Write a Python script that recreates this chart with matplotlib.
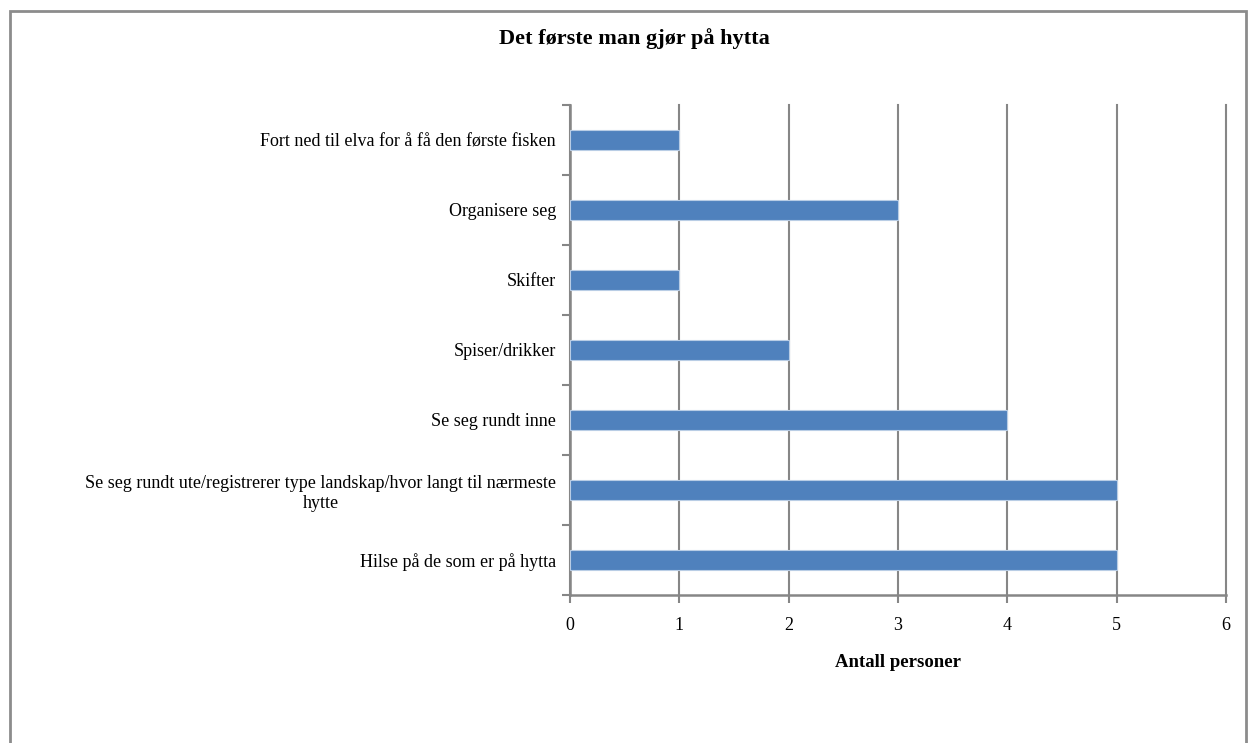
import matplotlib
matplotlib.use("Agg")
import matplotlib.pyplot as plt
from matplotlib.patches import Rectangle

categories = [
    "Hilse på de som er på hytta",
    "Se seg rundt ute/registrerer type landskap/hvor langt til nærmeste\nhytte",
    "Se seg rundt inne",
    "Spiser/drikker",
    "Skifter",
    "Organisere seg",
    "Fort ned til elva for å få den første fisken",
]
values = [5, 5, 4, 2, 1, 3, 1]
x_ticks = [0, 1, 2, 3, 4, 5, 6]
title = "Det første man gjør på hytta"
xlabel = "Antall personer"

plt.rcParams['font.family'] = ['Liberation Serif', 'DejaVu Serif']

W, H = 1248, 743
fig = plt.figure(figsize=(W / 100, H / 100), dpi=100)
fig.patch.set_facecolor('white')

# outer chart border
fig.patches.append(Rectangle((10 / W, -0.05), (1246 - 10) / W, 1 - 11 / H + 0.05,
                             transform=fig.transFigure, fill=False,
                             edgecolor='#8c8c8c', linewidth=2.0))

ax = fig.add_axes([570 / W, 1 - 595 / H, (1226 - 570) / W, (595 - 105) / H])
grid_color = '#868686'
pos = list(range(len(categories)))
ax.barh(pos, values, height=0.28, color='#4F81BD', edgecolor='#b9cde5',
        linewidth=0.8, zorder=3)
ax.set_xlim(0, 6)
ax.set_ylim(-0.5, len(categories) - 0.5)
ax.set_xticks(x_ticks)
ax.set_xticklabels([str(t) for t in x_ticks], fontsize=13)
ax.set_yticks(pos)
ax.set_yticklabels(categories, fontsize=13, multialignment='center')
ax.tick_params(axis='y', length=0, pad=10)
ax.set_yticks([p - 0.5 for p in pos] + [len(categories) - 0.5], minor=True)
ax.tick_params(axis='y', which='minor', length=6, width=1.5, color=grid_color)
ax.tick_params(axis='x', length=6, width=1.5, color=grid_color, pad=10)
ax.xaxis.grid(True, color=grid_color, linewidth=1.5, zorder=0)
for gl in ax.get_xgridlines():
    gl.set_clip_on(False)
ax.set_axisbelow(True)
for s in ['top', 'right']:
    ax.spines[s].set_visible(False)
for s in ['left', 'bottom']:
    ax.spines[s].set_color(grid_color)
    ax.spines[s].set_linewidth(1.8)
ax.set_xlabel(xlabel, fontsize=13.5, fontweight='bold', labelpad=14)
fig.text(634 / W, 1 - 39 / H, title, ha='center', va='center',
         fontsize=16, fontweight='bold')

fig.savefig('out.png', dpi=100, facecolor='white')
